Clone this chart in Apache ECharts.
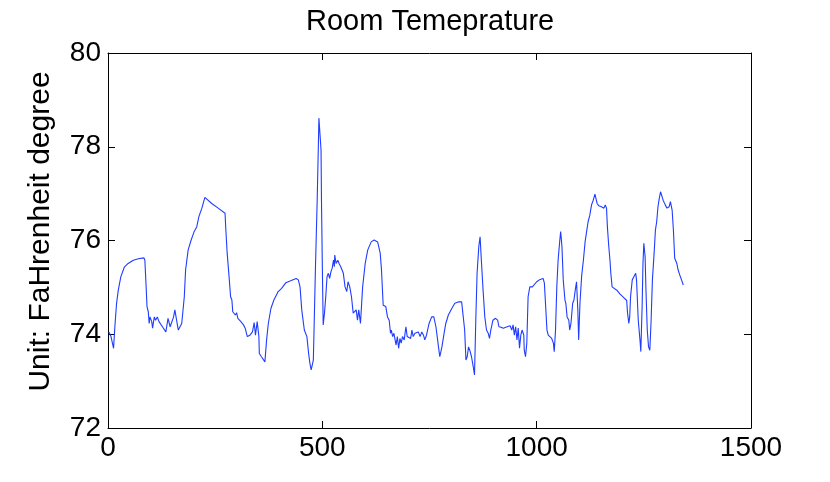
<!DOCTYPE html>
<html>
<head>
<meta charset="utf-8">
<script src="https://cdn.jsdelivr.net/npm/echarts@6/dist/echarts.min.js"></script>
<style>html,body{margin:0;padding:0;background:#fff}#c{width:830px;height:482px}</style>
</head>
<body>
<div id="c"></div>
<script>
const titleText = 'Room Temeprature';
const yAxisName = 'Unit: FaHrenheit degree';
const xTicks = [0, 500, 1000, 1500];
const yTicks = [72, 74, 76, 78, 80];

const sampleIndex = [
2,5,7,10,13,16,20,24,30,38,47,59,71,84,86,89,91,94,96,98,102,104,108,111,115,119,123,127,131,135,140,145,149,153,156,160,164,168,172,176,178,181,187,194,201,207,212,219,226,
242,257,273,275,278,283,286,289,291,295,297,300,303,306,310,313,316,320,325,331,337,341,344,348,352,353,358,366,370,374,380,387,397,405,415,426,439,444,
448,452,458,464,468,471,474,479,481,484,488,491,492,495,497,498,500,502,505,508,511,514,517,520,523,526,528,529,532,536,539,543,549,553,557,560,564,568,572,576,579,582,585,589,594,600,606,614,621,629,635,638,642,648,652,656,659,661,664,667,
672,675,678,681,684,687,691,695,698,702,706,709,712,716,720,724,728,732,736,739,743,749,755,760,765,771,774,779,784,788,794,802,809,817,825,829,832,835,838,841,844,848,852,855,858,861,865,868,871,875,879,883,887,890,893,898,904,909,912,917,922,928,932,938,942,945,948,951,954,957,960,963,966,970,971,974,977,980,984,990,994,1000,1008,1015,1018,1021,1024,1027,1031,1035,1039,1041,1044,1047,1050,1054,1056,1059,1062,1066,1068,1071,1075,1077,1080,1084,1087,1090,1093,1096,1098,1101,1105,1109,1113,1117,1120,1124,1128,1132,1136,1138,1141,1145,1148,1151,1154,1157,1160,1163,1165,1168,1171,1173,1176,1179,1187,1194,1202,1210,1212,1215,1217,1219,1223,1227,1231,1233,1237,1241,1243,1246,1248,1250,1253,1255,1258,1261,1264,1267,1270,1274,1277,1280,1283,1286,1289,1292,1295,1300,1304,1309,1312,1316,1319,1322,1327,1330,1334,1338,1342
];

const temperature = [
74.05,74.09,73.95,73.98,73.70,74.16,74.66,74.94,75.23,75.43,75.51,75.58,75.61,75.63,75.58,75.01,74.59,74.48,74.23,74.37,74.27,74.13,74.37,74.30,74.37,74.27,74.23,74.16,74.13,74.05,74.34,74.16,74.20,74.37,74.52,74.30,74.09,74.09,74.23,74.23,74.80,75.37,75.80,76.01,76.19,76.29,76.51,76.69,76.92,
76.79,76.69,76.58,76.22,75.73,75.16,74.80,74.73,74.48,74.52,74.41,74.46,74.34,74.37,74.27,74.30,74.20,74.13,73.95,73.98,74.05,74.25,73.98,74.27,73.95,73.59,73.52,73.41,73.88,74.23,74.55,74.73,74.91,74.98,75.10,75.14,75.19,75.16,
75.01,74.52,74.09,73.95,73.59,73.38,73.24,73.45,74.23,75.44,76.86,78.14,78.61,78.64,77.93,76.86,75.44,74.20,74.45,74.80,75.23,75.30,75.19,75.33,75.41,75.58,75.44,75.69,75.51,75.58,75.51,75.44,75.30,75.01,74.91,75.12,75.01,74.80,74.45,74.41,74.52,74.30,74.52,74.23,75.01,75.51,75.80,75.97,76.01,75.97,75.73,75.37,74.62,74.59,74.37,74.30,74.02,74.09,73.95,74.02,
73.77,73.95,73.70,73.91,73.81,73.95,73.88,74.16,73.95,73.98,73.91,74.09,73.95,74.02,73.98,74.05,73.95,74.05,73.98,73.88,73.98,74.23,74.37,74.37,74.16,73.73,73.52,73.73,74.02,74.23,74.41,74.55,74.66,74.69,74.69,74.66,74.09,73.45,73.52,73.73,73.66,73.52,73.31,73.13,74.30,75.30,75.87,76.08,75.58,74.94,74.37,74.09,74.02,73.91,74.09,74.30,74.34,74.30,74.16,74.15,74.13,74.15,74.13,74.18,74.09,74.20,73.98,74.16,73.88,74.13,73.70,73.98,74.09,73.98,73.66,73.52,73.81,74.80,75.01,75.01,75.05,75.12,75.17,75.19,75.09,74.59,74.09,73.98,73.95,73.91,73.81,73.63,74.09,75.01,75.58,76.01,76.19,75.87,75.16,74.73,74.66,74.37,74.30,74.09,74.23,74.66,74.73,74.94,75.12,74.52,73.88,74.66,75.25,75.58,75.97,76.22,76.40,76.54,76.76,76.86,76.99,76.97,76.79,76.74,76.76,76.72,76.74,76.69,76.76,76.69,76.29,75.90,75.58,75.30,75.01,75.03,74.94,74.86,74.79,74.72,74.45,74.23,74.37,74.80,75.16,75.23,75.30,75.16,74.30,73.88,73.63,74.59,75.51,75.94,75.65,74.94,74.09,73.73,73.66,74.30,75.16,75.73,76.22,76.40,76.72,76.90,77.04,77.02,76.86,76.76,76.69,76.72,76.83,76.65,76.22,75.62,75.51,75.37,75.26,75.16,75.05
];

const points = sampleIndex.map((x, i) => [x, temperature[i]]);
const FONT = 'Liberation Sans, Arial, Helvetica, sans-serif';

const xMin = xTicks[0], xMax = xTicks[xTicks.length - 1], xStep = xTicks[1] - xTicks[0];
const yMin = yTicks[0], yMax = yTicks[yTicks.length - 1], yStep = yTicks[1] - yTicks[0];

const axisCommon = {
  type: 'value',
  axisLine: { show: true, onZero: false, lineStyle: { color: '#000', width: 1 } },
  axisTick: { show: true, inside: true, length: 7, lineStyle: { color: '#000', width: 1 } },
  splitLine: { show: false }
};

const chart = echarts.init(document.getElementById('c'), null, { renderer: 'canvas' });
chart.setOption({
  animation: false,
  backgroundColor: '#fff',
  title: {
    text: titleText,
    left: 301,
    top: 2,
    textStyle: { fontFamily: FONT, fontSize: 29, fontWeight: 'normal', color: '#000' }
  },
  grid: { left: 108, right: 79, top: 53, bottom: 54, containLabel: false },
  xAxis: [
    Object.assign({}, axisCommon, {
      position: 'bottom', min: xMin, max: xMax, interval: xStep,
      axisLabel: { show: true, margin: 6, color: '#000', fontFamily: FONT, fontSize: 28,
        formatter: v => String(v) }
    }),
    Object.assign({}, axisCommon, {
      position: 'top', min: xMin, max: xMax, interval: xStep,
      axisLabel: { show: false }
    })
  ],
  yAxis: [
    Object.assign({}, axisCommon, {
      position: 'left', min: yMin, max: yMax, interval: yStep,
      name: yAxisName, nameLocation: 'middle', nameRotate: 90, nameGap: 52,
      nameTextStyle: { fontFamily: FONT, fontSize: 30, color: '#000', padding: [0, 0, 0, 18] },
      axisLabel: { show: true, margin: 7, color: '#000', fontFamily: FONT, fontSize: 28,
        formatter: v => String(v) }
    }),
    Object.assign({}, axisCommon, {
      position: 'right', min: yMin, max: yMax, interval: yStep,
      axisLabel: { show: false }
    })
  ],
  series: [{
    type: 'line',
    xAxisIndex: 0,
    yAxisIndex: 0,
    data: points,
    showSymbol: false,
    symbol: 'none',
    smooth: false,
    lineStyle: { color: '#1f3cff', width: 1.1 }
  }]
});
</script>
</body>
</html>
